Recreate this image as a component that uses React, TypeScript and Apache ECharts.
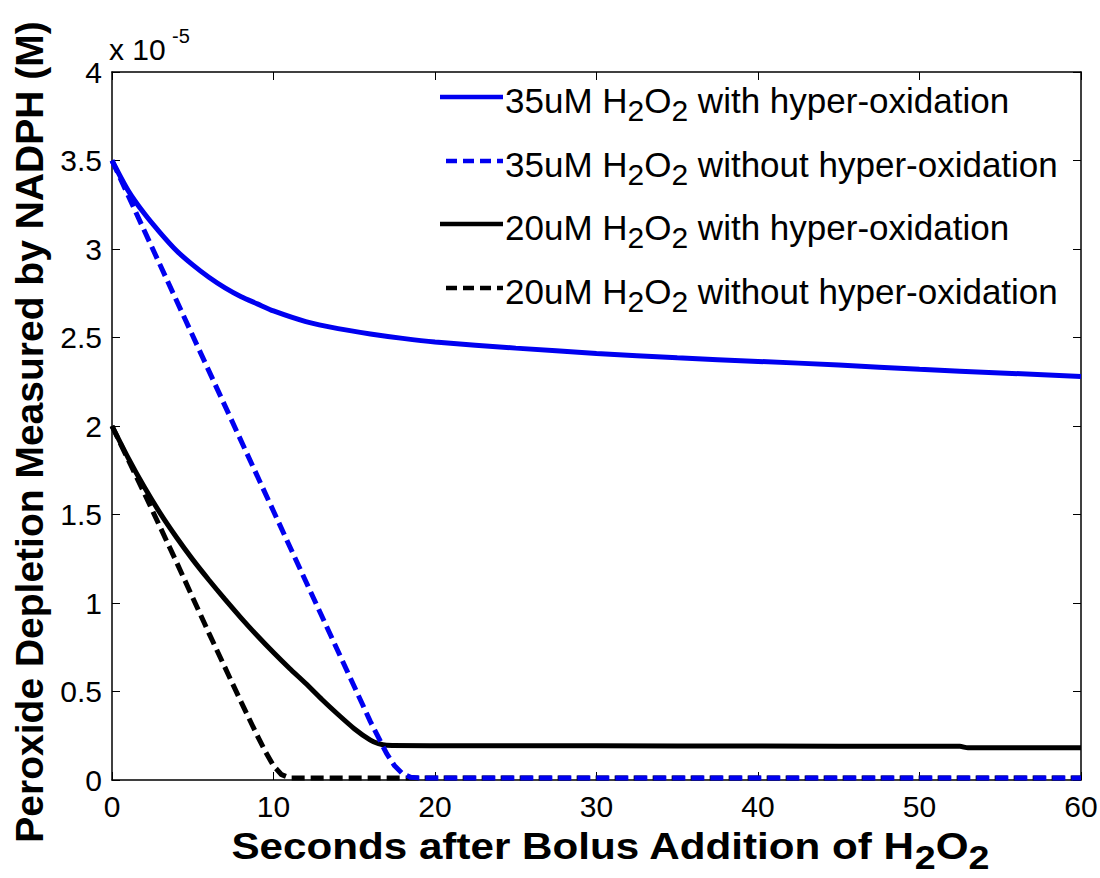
import React, { useEffect, useRef } from "react";
import * as echarts from "echarts";

// ---- data (values in units of 1e-5 M) ----
const xTicks = [0, 10, 20, 30, 40, 50, 60];
const yTicks = [0, 0.5, 1, 1.5, 2, 2.5, 3, 3.5, 4];

const blueSolidT = [0, 1, 2, 3, 4, 5, 6, 7, 8, 9, 10, 12, 14, 16, 18, 20, 25, 30, 35, 40, 45, 50, 55, 60];
const blueSolidV = [3.5, 3.33, 3.2, 3.09, 2.99, 2.91, 2.84, 2.78, 2.73, 2.69, 2.65, 2.59, 2.55, 2.52, 2.495, 2.475, 2.44, 2.41, 2.385, 2.365, 2.345, 2.32, 2.3, 2.28];

const blueDashT = [0, 16, 17, 17.5, 18, 18.5, 19, 60];
const blueDashV = [3.5, 0.33, 0.15, 0.08, 0.035, 0.015, 0.012, 0.012];

const blackSolidT = [0, 1, 2, 3, 4, 5, 6, 7, 8, 9, 10, 11, 12, 13, 14, 15, 16, 16.5, 17, 20, 30, 40, 50, 52.5, 53, 60];
const blackSolidV = [2.0, 1.82, 1.655, 1.505, 1.37, 1.245, 1.13, 1.02, 0.915, 0.815, 0.72, 0.63, 0.545, 0.455, 0.37, 0.29, 0.225, 0.205, 0.196, 0.194, 0.193, 0.192, 0.19, 0.19, 0.182, 0.182];

const blackDashT = [0, 2, 4, 6, 8, 9, 9.5, 10, 10.5, 11, 11.5, 60];
const blackDashV = [2.0, 1.62, 1.23, 0.83, 0.44, 0.25, 0.16, 0.08, 0.03, 0.012, 0.012, 0.012];

const legendLabels = [
  "{n|35uM H}{s|2}{n|O}{s|2}{n| with hyper-oxidation}",
  "{n|35uM H}{s|2}{n|O}{s|2}{n| without hyper-oxidation}",
  "{n|20uM H}{s|2}{n|O}{s|2}{n| with hyper-oxidation}",
  "{n|20uM H}{s|2}{n|O}{s|2}{n| without hyper-oxidation}",
];
const seriesNames = [
  "35uM H2O2 with hyper-oxidation",
  "35uM H2O2 without hyper-oxidation",
  "20uM H2O2 with hyper-oxidation",
  "20uM H2O2 without hyper-oxidation",
];

const FONT = "'Liberation Sans', Arial, Helvetica, sans-serif";
const BLUE = "#0000f0";
const BLACK = "#000000";

function pairs(t: number[], v: number[]) {
  return t.map((x, i) => [x, v[i]]);
}

export default function App() {
  const ref = useRef<HTMLDivElement>(null);
  useEffect(() => {
    if (!ref.current) return;
    const chart = echarts.init(ref.current, undefined, { renderer: "svg" });
    const colors = [BLUE, BLUE, BLACK, BLACK];
    const dashed = [false, true, false, true];
    const smoothFlags = [0.25, false, 0.2, false];
    const datas = [
      pairs(blueSolidT, blueSolidV),
      pairs(blueDashT, blueDashV),
      pairs(blackSolidT, blackSolidV),
      pairs(blackDashT, blackDashV),
    ];
    const legendRowsY = [97, 161, 224, 288];

    const legendGraphics: any[] = [];
    legendLabels.forEach((lab, i) => {
      const y = legendRowsY[i];
      legendGraphics.push({
        type: "line",
        shape: { x1: dashed[i] ? 446 : 440, y1: y, x2: 503, y2: y },
        style: {
          stroke: colors[i],
          lineWidth: 4.5,
          lineDash: dashed[i] ? [11, 6] : null,
        },
        z: 100,
      });
      legendGraphics.push({
        type: "text",
        x: 505,
        y: y + 4,
        z: 100,
        style: {
          text: lab,
          fill: "#000",
          fontFamily: FONT,
          fontSize: 35,
          align: "left",
          verticalAlign: "middle",
          rich: {
            n: { fontFamily: FONT, fontSize: 35, lineHeight: 36, verticalAlign: "top", fill: "#000" },
            s: { fontFamily: FONT, fontSize: 30, lineHeight: 36, verticalAlign: "top", padding: [12, 0, 0, 0], fill: "#000" },
          },
        },
      });
    });

    const option: any = {
      animation: false,
      backgroundColor: "#ffffff",
      grid: { left: 112, right: 19, top: 72, bottom: 98, containLabel: false, outerBoundsMode: "none" },
      xAxis: [
        {
          type: "value",
          min: 0,
          max: 60,
          interval: 10,
          position: "bottom",
          axisLine: { show: true, onZero: false, lineStyle: { color: "#000", width: 1.5 } },
          axisTick: { show: true, inside: true, length: 8, lineStyle: { color: "#000" } },
          axisLabel: { show: true, fontSize: 30, fontFamily: FONT, color: "#000", margin: 11, formatter: (v: number) => (xTicks.includes(v) ? String(v) : "") },
          splitLine: { show: false },
        },
        {
          type: "value",
          min: 0,
          max: 60,
          interval: 10,
          position: "top",
          axisLine: { show: true, onZero: false, lineStyle: { color: "#000", width: 1.5 } },
          axisTick: { show: true, inside: true, length: 8, lineStyle: { color: "#000" } },
          axisLabel: { show: false },
          splitLine: { show: false },
        },
      ],
      yAxis: [
        {
          type: "value",
          min: 0,
          max: 4,
          interval: 0.5,
          position: "left",
          axisLine: { show: true, onZero: false, lineStyle: { color: "#000", width: 1.5 } },
          axisTick: { show: true, inside: true, length: 8, lineStyle: { color: "#000" } },
          axisLabel: { show: true, fontSize: 30, fontFamily: FONT, color: "#000", margin: 10, formatter: (v: number) => (yTicks.includes(v) ? String(v) : "") },
          splitLine: { show: false },
        },
        {
          type: "value",
          min: 0,
          max: 4,
          interval: 0.5,
          position: "right",
          axisLine: { show: true, onZero: false, lineStyle: { color: "#000", width: 1.5 } },
          axisTick: { show: true, inside: true, length: 8, lineStyle: { color: "#000" } },
          axisLabel: { show: false },
          splitLine: { show: false },
        },
      ],
      series: datas.map((d, i) => ({
        name: seriesNames[i],
        type: "line",
        data: d,
        xAxisIndex: 0,
        yAxisIndex: 0,
        showSymbol: false,
        symbol: "none",
        smooth: smoothFlags[i],
        clip: true,
        lineStyle: { color: colors[i], width: 5, type: dashed[i] ? [13, 6] : "solid" },
        z: 10 - i,
      })),
      graphic: [
        {
          type: "text",
          x: 109,
          y: 64,
          style: { text: "x 10", fontFamily: FONT, fontSize: 30, fill: "#000", align: "left", verticalAlign: "bottom" },
        },
        {
          type: "text",
          x: 172,
          y: 46,
          style: { text: "-5", fontFamily: FONT, fontSize: 20, fill: "#000", align: "left", verticalAlign: "bottom" },
        },
        {
          type: "text",
          x: 29,
          y: 432,
          rotation: Math.PI / 2,
          style: {
            text: "Peroxide Depletion Measured by NADPH (M)",
            fontFamily: FONT,
            fontWeight: "bold",
            fontSize: 39,
            fill: "#000",
            align: "center",
            verticalAlign: "middle",
          },
        },
        {
          type: "text",
          x: 610,
          y: 847,
          scaleX: 1.14,
          style: {
            text: "{n|Seconds after Bolus Addition of H}{s|2}{n|O}{s|2}",
            fontFamily: FONT,
            fontWeight: "bold",
            fontSize: 37,
            fill: "#000",
            align: "center",
            verticalAlign: "middle",
            rich: {
              n: { fontFamily: FONT, fontWeight: "bold", fontSize: 37, lineHeight: 40, verticalAlign: "top", fill: "#000" },
              s: { fontFamily: FONT, fontWeight: "bold", fontSize: 33, lineHeight: 34, verticalAlign: "top", padding: [14, 0, 0, 0], fill: "#000" },
            },
          },
        },
        ...legendGraphics,
      ],
    };
    chart.setOption(option);
    return () => chart.dispose();
  }, []);
  return (
    <div
      ref={ref}
      style={{ position: "fixed", left: 0, top: 0, width: 1100, height: 878, background: "#fff" }}
    />
  );
}
